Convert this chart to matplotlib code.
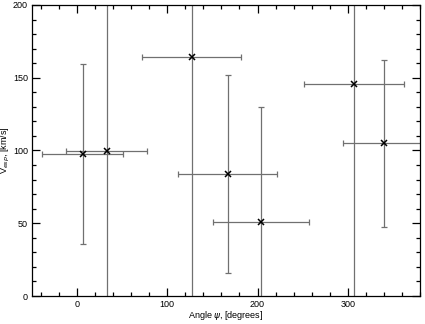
import matplotlib
matplotlib.use('Agg')
import matplotlib.pyplot as plt
from matplotlib.ticker import MultipleLocator

# angle psi [deg], escape velocity [km/s] and their errors
psi = [6, 33, 127, 167, 204, 307, 340]
vesp = [97.6, 99.5, 164.5, 84, 51, 145.5, 105]
psi_err = [45, 45, 55, 55, 53, 55, 45]
vesp_err = [62, 110, 180, 68, 79, 160, 57.5]

plt.rcParams['font.family'] = ['Liberation Sans', 'DejaVu Sans']
plt.rcParams['font.size'] = 6.5

fig = plt.figure(figsize=(4.25, 3.24), dpi=100)
ax = fig.add_axes([0.0753, 0.0864, 0.9127, 0.8982])

ax.errorbar(psi, vesp, xerr=psi_err, yerr=vesp_err, fmt='none',
            ecolor='#707070', elinewidth=0.9, capsize=2, capthick=0.9)
ax.plot(psi, vesp, 'kx', ms=4.5, mew=1.1)

ax.set_xlim(-50, 380)
ax.set_ylim(0, 200)
ax.xaxis.set_major_locator(MultipleLocator(100))
ax.xaxis.set_minor_locator(MultipleLocator(20))
ax.yaxis.set_major_locator(MultipleLocator(50))
ax.yaxis.set_minor_locator(MultipleLocator(10))
ax.tick_params(which='both', direction='in', top=True, right=True, width=0.9)
ax.tick_params(which='major', length=6)
ax.tick_params(which='minor', length=3)
ax.tick_params(axis='x', which='major', pad=3)
ax.tick_params(axis='y', which='major', pad=3)
for s in ax.spines.values():
    s.set_linewidth(0.9)

ax.set_xlabel(r'Angle $\psi$, [degrees]', labelpad=0)
ax.set_ylabel(r'V$_{esp}$, [km/s]')
ax.yaxis.set_label_coords(-0.052, 0.5)

fig.savefig('out.png', dpi=100)
